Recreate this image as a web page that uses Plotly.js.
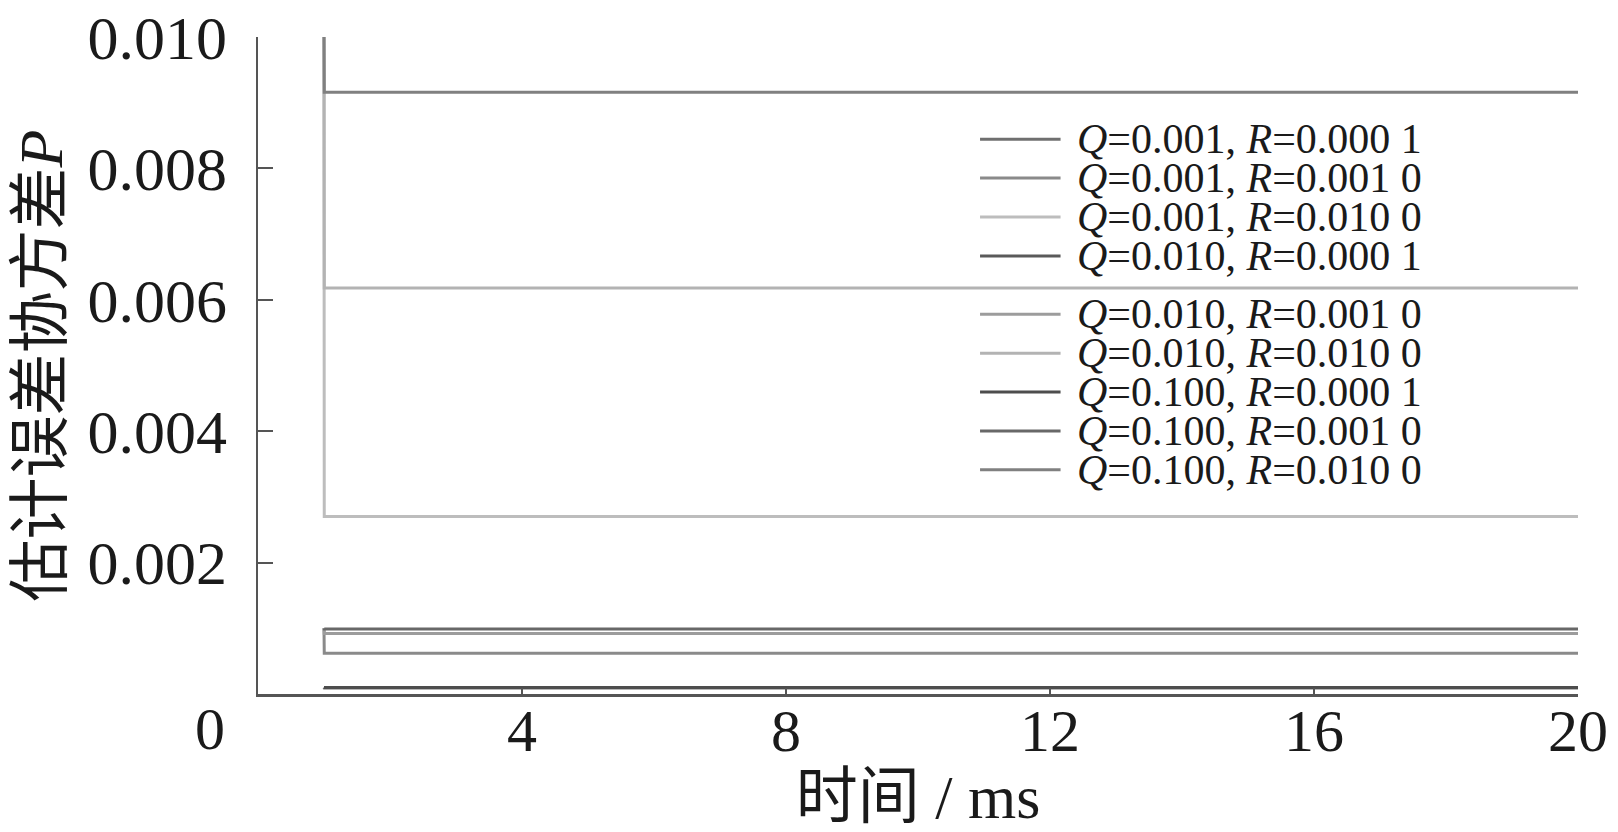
<!DOCTYPE html>
<html>
<head>
<meta charset="utf-8">
<script src="https://cdn.plot.ly/plotly-3.0.1.min.js"></script>
<style>html,body{margin:0;padding:0;background:#fff;}#chart{width:1618px;height:832px;}</style>
</head>
<body>
<div id="chart"></div>
<script>
// time axis (ms): start of the recording, then the last sample at 20 ms
const time = [1, 1.001, 1.002, 1.003, 1.004, 20];

// estimated error covariance P for each (Q, R) pair
const P_Q0001_R00001 = [0.00010, 0.000092, 0.000092, 0.000092, 0.000092, 0.000092];
const P_Q0001_R0001  = [0.00100, 0.00067, 0.00063, 0.00062, 0.00062, 0.00062];
const P_Q0001_R001   = [0.01000, 0.00520, 0.00380, 0.00310, 0.00270, 0.00270];
const P_Q001_R00001  = [0.00010, 0.000099, 0.000099, 0.000099, 0.000099, 0.000099];
const P_Q001_R0001   = [0.00100, 0.00093, 0.00092, 0.00092, 0.00092, 0.00092];
const P_Q001_R001    = [0.01000, 0.00670, 0.00620, 0.00618, 0.00618, 0.00618];
const P_Q01_R00001   = [0.00010, 0.00010, 0.00010, 0.00010, 0.00010, 0.00010];
const P_Q01_R0001    = [0.00100, 0.00099, 0.00099, 0.00099, 0.00099, 0.00099];
const P_Q01_R001     = [0.01000, 0.00920, 0.00916, 0.00916, 0.00916, 0.00916];

const seriesValues = [P_Q0001_R00001, P_Q0001_R0001, P_Q0001_R001,
                      P_Q001_R00001, P_Q001_R0001, P_Q001_R001,
                      P_Q01_R00001, P_Q01_R0001, P_Q01_R001];

const seriesLabels = [
  '<i>Q</i>=0.001, <i>R</i>=0.000 1',
  '<i>Q</i>=0.001, <i>R</i>=0.001 0',
  '<i>Q</i>=0.001, <i>R</i>=0.010 0',
  '<i>Q</i>=0.010, <i>R</i>=0.000 1',
  '<i>Q</i>=0.010, <i>R</i>=0.001 0',
  '<i>Q</i>=0.010, <i>R</i>=0.010 0',
  '<i>Q</i>=0.100, <i>R</i>=0.000 1',
  '<i>Q</i>=0.100, <i>R</i>=0.001 0',
  '<i>Q</i>=0.100, <i>R</i>=0.010 0'
];

const seriesColors = ['#6f6f6f', '#8a8a8a', '#bdbdbd', '#5a5a5a', '#9c9c9c',
                      '#b3b3b3', '#4d4d4d', '#686868', '#808080'];

const xTickVals = [4, 8, 12, 16, 20];
const xTickText = ['4', '8', '12', '16', '20'];
const yTickVals = [0.002, 0.004, 0.006, 0.008, 0.010];
const yTickText = ['0.002', '0.004', '0.006', '0.008', '0.010'];

const FONT = 'Liberation Serif, Noto Sans CJK SC, serif';

const traces = seriesValues.map((vals, i) => ({
  x: time, y: vals, type: 'scatter', mode: 'lines',
  name: seriesLabels[i], showlegend: false,
  line: {color: seriesColors[i], width: 3}
}));

// hand-built legend (rows in two groups, as in the original)
const legendTop = 0.8444, rowStep = 0.0592, groupGap = 0.0296;
const annotations = [];
const shapes = [];
seriesLabels.forEach((lab, i) => {
  const yPos = legendTop - i * rowStep - (i >= 4 ? groupGap : 0);
  shapes.push({type: 'line', xref: 'paper', yref: 'paper',
    x0: 0.547, x1: 0.608, y0: yPos, y1: yPos,
    line: {color: seriesColors[i], width: 3}});
  annotations.push({xref: 'paper', yref: 'paper', x: 0.619, y: yPos,
    xanchor: 'left', yanchor: 'middle', showarrow: false, text: lab,
    font: {family: FONT, size: 42, color: '#1a1a1a'}});
});
annotations.push({xref: 'paper', yref: 'paper', x: 0, y: 0, xshift: -31, yshift: -35,
  xanchor: 'right', yanchor: 'middle', showarrow: false, text: '0',
  font: {family: FONT, size: 60, color: '#1a1a1a'}});

const layout = {
  width: 1618, height: 832,
  margin: {l: 258, r: 40, t: 37, b: 137.5},
  paper_bgcolor: '#fff', plot_bgcolor: '#fff',
  font: {family: FONT, color: '#1a1a1a'},
  showlegend: false,
  xaxis: {
    range: [0, 20], tickvals: xTickVals, ticktext: xTickText,
    ticks: 'inside', ticklen: 6, tickwidth: 2, tickcolor: '#555',
    showline: true, linecolor: '#555', linewidth: 2.5, showgrid: false, zeroline: false,
    tickfont: {family: FONT, size: 60, color: '#1a1a1a'},
    ticklabelstandoff: -18,
    title: {text: '时间 / ms', font: {family: FONT, size: 62, color: '#1a1a1a'}, standoff: 4}
  },
  yaxis: {
    range: [0, 0.010], tickvals: yTickVals, ticktext: yTickText,
    ticks: 'inside', ticklen: 15, tickwidth: 2, tickcolor: '#555',
    showline: true, linecolor: '#555', linewidth: 2.5, showgrid: false, zeroline: false,
    tickfont: {family: FONT, size: 62, color: '#1a1a1a'},
    ticklabelstandoff: 16,
    title: {text: '估计误差协方差<i>P</i>', font: {family: FONT, size: 62, color: '#1a1a1a'}, standoff: 5}
  },
  annotations: annotations,
  shapes: shapes
};

Plotly.newPlot('chart', traces, layout, {displayModeBar: false, staticPlot: true});
</script>
</body>
</html>
